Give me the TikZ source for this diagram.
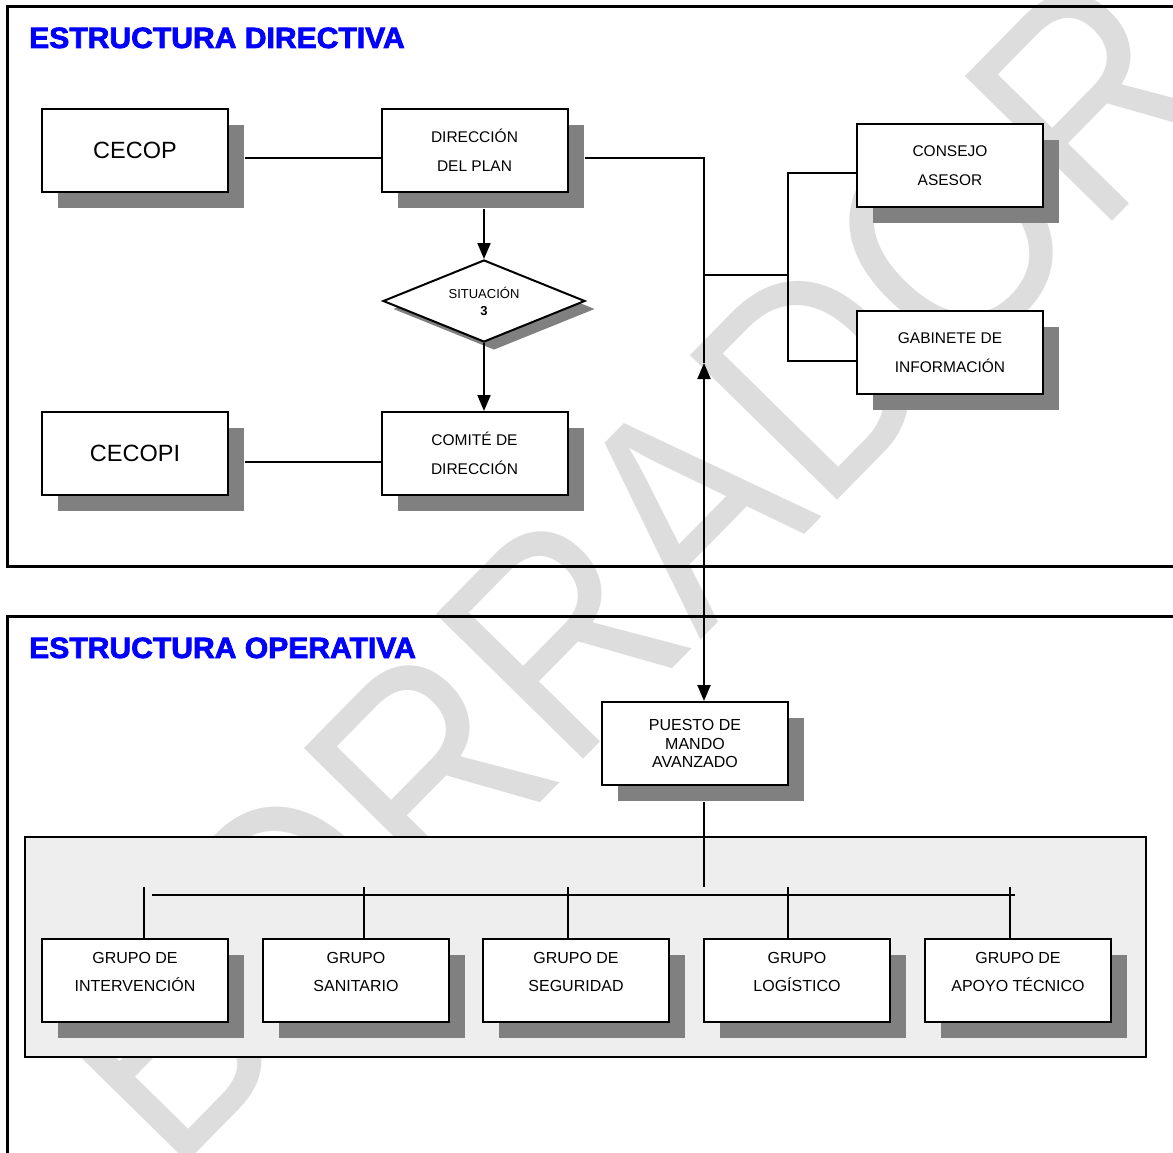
\documentclass[tikz,border=0pt]{standalone}
\usepackage{graphicx}
\usepackage{fontspec}
\setmainfont{Liberation Sans}
\newfontfamily\titlefont[FakeBold=2.5]{Liberation Sans Bold}
\usetikzlibrary{shapes.geometric,shadows,arrows.meta}

\definecolor{shgray}{RGB}{128,128,128}
\definecolor{panelgray}{RGB}{238,238,238}
\definecolor{wmgray}{RGB}{221,221,221}
\definecolor{titleblue}{RGB}{0,0,255}

\tikzstyle{box}=[draw,line width=2pt,fill=white,minimum width=186pt,minimum height=83pt,inner sep=0pt,align=center,font=\fontsize{15.5}{29}\selectfont,drop shadow={shadow xshift=16pt,shadow yshift=-16pt,fill=shgray,opacity=1}]
\tikzstyle{decision}=[diamond,draw,line width=2pt,fill=white,minimum width=202pt,minimum height=82pt,aspect=2.4,inner sep=0pt,align=center,font=\fontsize{13}{17}\selectfont,drop shadow={shadow xshift=10pt,shadow yshift=-8pt,fill=shgray,opacity=1}]
\tikzstyle{edge}=[draw,line width=2pt,-]
\tikzstyle{arrow}=[draw,line width=2pt,-{Triangle[length=16pt,width=13pt]}]
\tikzstyle{frame}=[draw,line width=3pt]
\tikzstyle{title}=[anchor=base west,inner sep=0pt,text=titleblue,font=\titlefont\fontsize{29.3}{30}\selectfont]

\begin{document}
\begin{tikzpicture}[x=1pt,y=-1pt]
	\useasboundingbox (0,0) rectangle (1173,1153);
	% watermark
	\node[anchor=base west,inner sep=0pt,rotate=45.5,text=wmgray,font=\fontsize{300}{300}\selectfont] (wm) at (172,1178) {\scalebox{0.87}[1]{BORRADOR}};
	% the two frames
	\draw[frame] (7,7) rectangle (1200,566);
	\draw[frame] (7,616) rectangle (1200,1200);
	\node[title] (tdir) at (29,48) {\scalebox{1.027}[1]{ESTRUCTURA DIRECTIVA}};
	\node[title] (top) at (29,658) {\scalebox{1.027}[1]{ESTRUCTURA OPERATIVA}};
	\draw[line width=2pt,fill=panelgray] (25,837) rectangle (1146,1057);

	% directive part
	\node[box,font=\fontsize{23.5}{26}\selectfont] (cecop) at (135,150.5) {CECOP};
	\node[box] (dir) at (474.5,150.5) {DIRECCIÓN\\DEL PLAN};
	\node[decision] (sit) at (484,301) {SITUACIÓN\\\textbf{3}};
	\node[box,font=\fontsize{23.5}{26}\selectfont] (cecopi) at (135,453.5) {CECOPI};
	\node[box] (comite) at (474.5,453.5) {COMITÉ DE\\DIRECCIÓN};
	\node[box] (consejo) at (950,165.5) {CONSEJO\\ASESOR};
	\node[box] (gabinete) at (950,352.5) {GABINETE DE\\INFORMACIÓN};

	\coordinate (jl) at (704,275);
	\coordinate (jr) at (788,275);
	\coordinate (pmaup) at (704,363);
	\path[edge] ([shift={(16,8)}]cecop.east) -- ([shift={(0,8)}]dir.west);
	\path[edge] ([shift={(16,8)}]cecopi.east) -- ([shift={(0,8)}]comite.west);
	\path[edge] ([shift={(16,8)}]dir.east) -| (pmaup);
	\path[arrow] ([shift={(9.5,16)}]dir.south) -- (sit.north);
	\path[arrow] (sit.south) -- (sit.south |- comite.north);
	\path[edge] (jl) -- (jr);
	\path[edge] ([shift={(0,8)}]consejo.west) -| (jr) |- ([shift={(0,8)}]gabinete.west);

	% operative part
	\node[box,font=\fontsize{16}{18.5}\selectfont] (pma) at (695,743.5) {PUESTO DE\\MANDO\\AVANZADO};
	\path[draw,line width=2pt,{Triangle[length=16pt,width=13pt]}-{Triangle[length=16pt,width=13pt]}] (pmaup) -- (pmaup |- pma.north);

	\foreach \i/\x/\t in {1/135/{GRUPO DE\\INTERVENCIÓN}, 2/356/{GRUPO\\SANITARIO}, 3/576/{GRUPO DE\\SEGURIDAD}, 4/797/{GRUPO\\LOGÍSTICO}, 5/1018/{GRUPO DE\\APOYO TÉCNICO}}
		\node[box,font=\fontsize{16}{28}\selectfont] (g\i) at (\x,980.5) {\t\\[-11pt]\mbox{}};
	\coordinate (bus) at (704,887);
	\coordinate (busl) at (152,895);
	\coordinate (busr) at (1015,895);
	\path[edge] ([shift={(9,16)}]pma.south) -- (bus);
	\path[edge] (busl) -- (busr);
	\foreach \i/\x in {1/144, 2/364, 3/568, 4/788, 5/1010}{
		\coordinate (t\i) at (\x,887);
		\path[edge] (t\i) -- (t\i |- g\i.north);
	}
\end{tikzpicture}
\end{document}
